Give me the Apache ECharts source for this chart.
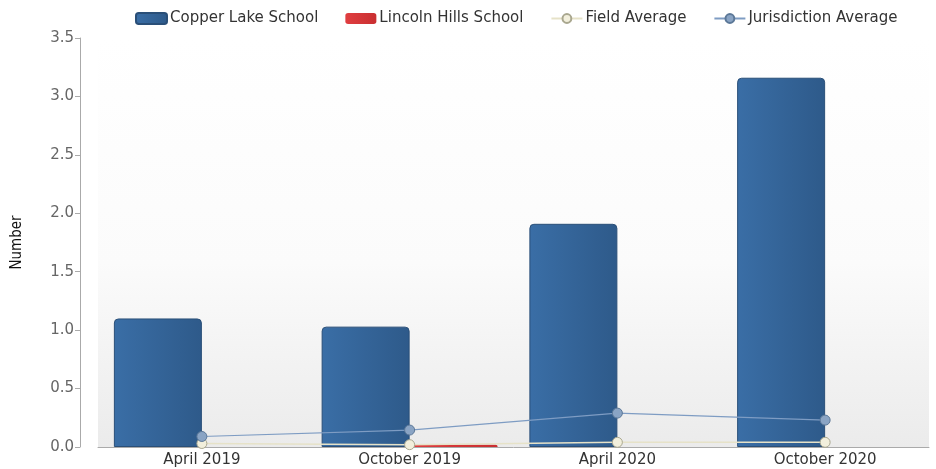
<!DOCTYPE html>
<html>
<head>
<meta charset="utf-8">
<script src="https://cdn.jsdelivr.net/npm/echarts@6/dist/echarts.min.js"></script>
<style>
html, body { margin: 0; padding: 0; background: #fff; }
#chart { width: 936px; height: 469px; }
</style>
</head>
<body>
<div id="chart"></div>
<script>
var categories = ['April 2019', 'October 2019', 'April 2020', 'October 2020'];
var copper_lake = [1.1, 1.03, 1.91, 3.16];
var lincoln_hills = [0, 0.02, 0, 0];
var field_avg = [0.03, 0.02, 0.04, 0.04];
var jurisdiction_avg = [0.09, 0.145, 0.29, 0.23];
var y_ticks = [0, 0.5, 1, 1.5, 2, 2.5, 3, 3.5];

var chartDom = document.getElementById('chart');
var myChart = echarts.init(chartDom);

function barGradient(c1, c2) {
	return new echarts.graphic.LinearGradient(0, 0, 1, 0, [
		{ offset: 0, color: c1 },
		{ offset: 1, color: c2 }
	]);
}

var option = {
	animation: false,
	textStyle: { fontFamily: 'DejaVu Sans' },
	legend: {
		top: 6,
		left: 130,
		itemGap: 27,
		itemWidth: 31,
		itemHeight: 11,
		textStyle: { fontSize: 15, color: '#333', fontFamily: 'DejaVu Sans', padding: [0, 0, 0, -2] },
		data: [
			{ name: 'Copper Lake School', icon: 'roundRect' },
			{ name: 'Lincoln Hills School', icon: 'roundRect' },
			{ name: 'Field Average' },
			{ name: 'Jurisdiction Average' }
		]
	},
	grid: {
		left: 98,
		right: 7,
		top: 38,
		bottom: 22,
		show: true,
		borderWidth: 0,
		backgroundColor: new echarts.graphic.LinearGradient(0, 0, 0, 1, [
			{ offset: 0, color: '#ffffff' },
			{ offset: 0.55, color: '#fbfbfb' },
			{ offset: 1, color: '#ebebeb' }
		])
	},
	xAxis: {
		type: 'category',
		data: categories,
		axisLine: { lineStyle: { color: '#aaa' } },
		axisTick: { alignWithLabel: true, length: 5, lineStyle: { color: '#aaa' } },
		axisLabel: { fontSize: 15, color: '#333', margin: 6 }
	},
	yAxis: {
		type: 'value',
		min: 0,
		max: y_ticks[y_ticks.length - 1],
		interval: 0.5,
		offset: 18,
		name: 'Number',
		nameLocation: 'middle',
		nameGap: 55,
		nameTextStyle: { fontSize: 15, color: '#111', fontFamily: 'Liberation Sans Narrow, DejaVu Sans Condensed' },
		axisLine: { show: true, lineStyle: { color: '#aaa' } },
		axisTick: { show: true, length: 5, lineStyle: { color: '#aaa' } },
		splitLine: { show: false },
		axisLabel: {
			fontSize: 15,
			color: '#666',
			margin: 6,
			formatter: function (v) { return v.toFixed(1); }
		}
	},
	series: [
		{
			name: 'Copper Lake School',
			type: 'bar',
			data: copper_lake,
			barWidth: 88,
			barGap: '0%',
			itemStyle: {
				color: barGradient('#3a6ea6', '#2e5a8a'),
				borderColor: '#2a4f78',
				borderWidth: 1,
				borderRadius: [4, 4, 0, 0]
			}
		},
		{
			name: 'Lincoln Hills School',
			type: 'bar',
			data: lincoln_hills,
			barWidth: 88,
			barGap: '0%',
			itemStyle: {
				color: barGradient('#e03e40', '#c92f31'),
				borderWidth: 0,
				borderRadius: [2, 2, 0, 0]
			}
		},
		{
			name: 'Field Average',
			type: 'line',
			data: field_avg,
			symbol: 'circle',
			symbolSize: 10,
			lineStyle: { color: '#e6e2c8', width: 1.5 },
			itemStyle: { color: '#f2efdc', borderColor: '#a9a78f', borderWidth: 1 }
		},
		{
			name: 'Jurisdiction Average',
			type: 'line',
			data: jurisdiction_avg,
			symbol: 'circle',
			symbolSize: 10,
			lineStyle: { color: '#7e9cc3', width: 1.2 },
			itemStyle: { color: '#8aa4c4', borderColor: '#5c7898', borderWidth: 1 }
		}
	]
};

myChart.setOption(option);
</script>
</body>
</html>
